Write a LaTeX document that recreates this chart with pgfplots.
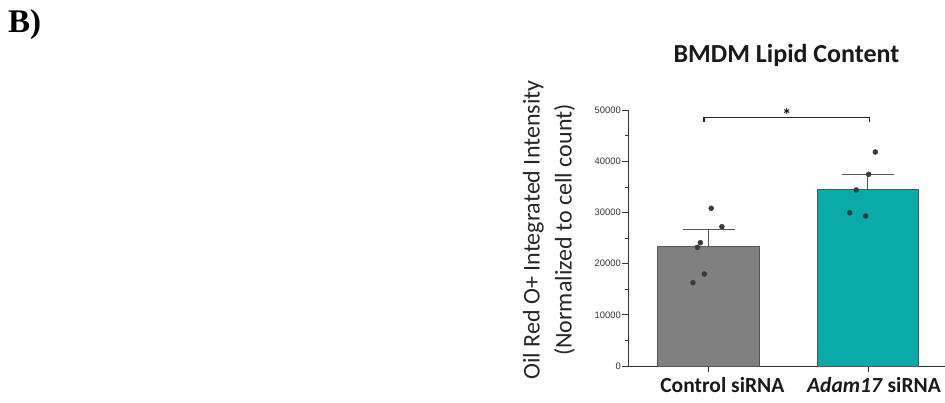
\documentclass[border=0pt]{standalone}
\usepackage{pgfplots}
\pgfplotsset{compat=1.18}
\usepackage{fontspec}
\setmainfont{Carlito}
\newfontfamily\tickfont{Liberation Sans}
\newfontfamily\panelfont{Liberation Serif}
\definecolor{ctrlgray}{HTML}{808080}
\definecolor{tealbar}{HTML}{0AAAAA}
\definecolor{edgegray}{HTML}{555555}
\definecolor{dotgray}{HTML}{3A3A3A}
\definecolor{tickgray}{HTML}{333333}
\begin{document}
\begin{tikzpicture}
\useasboundingbox (0,0) rectangle (945pt,402pt);
\node[anchor=base west, inner sep=0pt, font=\panelfont\bfseries\fontsize{33}{36}\selectfont] at (8pt,369pt) {B)};
\node[anchor=base, inner sep=0pt, font=\bfseries\fontsize{26}{30}\selectfont, text=black!90] at (786.5pt,339pt) {BMDM Lipid Content};
\node[rotate=90, align=center, inner sep=0pt, font=\fontsize{24}{32}\selectfont, text=black!85] at (549pt,172pt) {Oil Red O+ Integrated Intensity\\(Normalized to cell count)};
\begin{axis}[
  at={(628pt,36pt)}, anchor=south west, scale only axis,
  width=317pt, height=255.7pt,
  xmin=-0.508, xmax=1.484, ymin=0, ymax=50000,
  axis x line=bottom, axis y line=left,
  axis line style={-, line width=1pt, black!80},
  ytick={0,10000,20000,30000,40000,50000},
  minor ytick={5000,15000,25000,35000,45000},
  scaled y ticks=false,
  xtick={0,1},
  xticklabels={\hspace*{27pt}Control siRNA, \hspace*{12pt}\textit{Adam17} siRNA},
  tick align=outside, major tick length=6pt, minor tick length=3pt,
  tick style={line width=0.8pt, black!80},
  /pgf/number format/assume math mode=true,
  /pgf/number format/1000 sep={},
  yticklabel style={font=\tickfont\fontsize{9.4}{11}\selectfont, text=tickgray, inner sep=1pt},
  xticklabel style={font=\bfseries\fontsize{21.5}{24}\selectfont, text=black!90, yshift=-2pt},
  clip=false,
]
\addplot[ybar, bar width=0.64, bar shift=0, fill=ctrlgray, draw=edgegray, line width=1pt,
  error bars/.cd, y dir=plus, y explicit, error mark=|,
  error bar style={line width=1pt, color=edgegray},
  error mark options={mark size=26pt, line width=1pt, color=edgegray}]
  coordinates {(0,23270) +- (0,3330)};
\addplot[ybar, bar width=0.64, bar shift=0, fill=tealbar, draw=edgegray, line width=1pt,
  error bars/.cd, y dir=plus, y explicit, error mark=|,
  error bar style={line width=1pt, color=edgegray},
  error mark options={mark size=26pt, line width=1pt, color=edgegray}]
  coordinates {(1,34580) +- (0,2820)};
\addplot[only marks, mark=*, mark size=2.5pt, mark options={fill=dotgray, draw=dotgray}]
  coordinates {(0.015,30840) (0.082,27240) (-0.053,24110) (-0.072,23210) (-0.028,17990) (-0.1,16290)};
\addplot[only marks, mark=*, mark size=2.5pt, mark options={fill=dotgray, draw=dotgray}]
  coordinates {(1.046,41850) (1.004,37480) (0.926,34420) (0.885,29980) (0.985,29330)};
\draw[line width=1.2pt, black!85] (axis cs:-0.03,47800) -- (axis cs:-0.03,48630) -- (axis cs:1.01,48630) -- (axis cs:1.01,47800);
\node[anchor=base, inner sep=0pt, font=\bfseries\fontsize{18}{20}\selectfont] at (axis cs:0.49,47900) {*};
\end{axis}
\end{tikzpicture}
\end{document}
